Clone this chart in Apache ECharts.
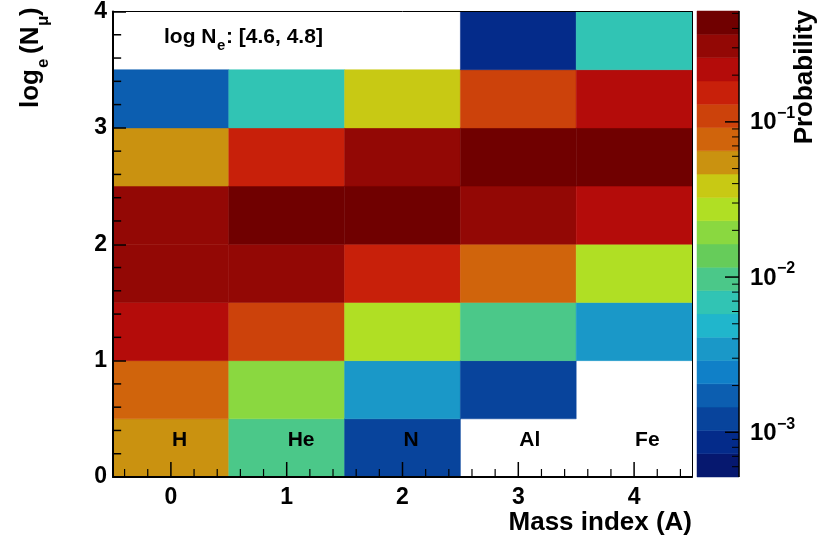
<!DOCTYPE html>
<html>
<head>
<meta charset="utf-8">
<script src="https://cdn.jsdelivr.net/npm/echarts@6/dist/echarts.min.js"></script>
<style>
  html, body { margin: 0; padding: 0; background: #fff; }
  #main { width: 823px; height: 543px; }
</style>
</head>
<body>
<div id="main"></div>
<script>
var FONT = '"Liberation Sans", Arial, Helvetica, sans-serif';

// mass index (x) and element names
var massIndex = [0, 1, 2, 3, 4];
var elements = ['H', 'He', 'N', 'Al', 'Fe'];

// lower edges of the log_e(N_mu) bins, bin width 0.5
var binLow = [0, 0.5, 1, 1.5, 2, 2.5, 3, 3.5];
var binWidth = 0.5;

// probability per bin (null = empty cell)
var probH  = [0.055, 0.077, 0.22, 0.31, 0.30, 0.054, 0.0017, null];
var probHe = [0.0097, 0.019, 0.11, 0.31, 0.43, 0.15, 0.0069, null];
var probN  = [0.0012, 0.0034, 0.027, 0.15, 0.44, 0.30, 0.039, null];
var probAl = [null, 0.0012, 0.0097, 0.077, 0.30, 0.43, 0.11, 0.00086];
var probFe = [null, null, 0.0034, 0.027, 0.22, 0.43, 0.22, 0.0069];
var probByMass = [probH, probHe, probN, probAl, probFe];

// colour palette, low -> high (20 bands on a log scale)
var palette = [
  '#06186f', '#042b8a', '#08449c', '#0c5eb0', '#1080c8',
  '#1a98c8', '#20b6cc', '#31c4b4', '#4bc889', '#66cc5a',
  '#8ad840', '#b0df24', '#c8c914', '#ca9210', '#d0640c',
  '#cc420b', '#c8200a', '#b40c0a', '#930805', '#700000'
];
var zMin = 5.15e-4;
var zMax = 0.518;

// colour bar ticks
var cbMajor = [1e-3, 1e-2, 1e-1];
var cbMajorExp = ['\u22123', '\u22122', '\u22121'];
var cbMinorMant = [2, 3, 4, 5, 6, 7, 8, 9];

var zLo = Math.log10(zMin);
var zHi = Math.log10(zMax);
var zStep = (zHi - zLo) / palette.length;

function colorOf(v) {
  var k = Math.floor((Math.log10(v) - zLo) / zStep);
  if (k < 0) k = 0;
  if (k > palette.length - 1) k = palette.length - 1;
  return palette[k];
}

var cellData = [];
massIndex.forEach(function (a, i) {
  probByMass[i].forEach(function (p, j) {
    if (p != null) cellData.push([a, binLow[j], p]);
  });
});

// ROOT style x ticks: major every 1, minor every 0.2
var xTickData = [];
for (var t = -2; t <= 22; t++) {
  xTickData.push([Math.round(t * 2) / 10, t % 5 === 0 ? 1 : 0]);
}
// y minor ticks every 0.2
var yMinorData = [];
for (var s = 1; s < 20; s++) {
  if (s % 5 !== 0) yMinorData.push([-0.49, Math.round(s * 2) / 10]);
}

var labelData = massIndex.map(function (a) { return [a, 0.32]; });

var cbBandData = palette.map(function (c, k) { return [k]; });

var cbTickData = [];
cbMajor.forEach(function (m, i) { cbTickData.push([Math.log10(m), 1, i]); });
[-4, -3, -2, -1].forEach(function (e) {
  cbMinorMant.forEach(function (m) {
    var lv = e + Math.log10(m);
    if (lv > zLo && lv < zHi) cbTickData.push([lv, 0, -1]);
  });
});

var chart = echarts.init(document.getElementById('main'));

var labelFont = { fontFamily: FONT, fontWeight: 'bold', fontSize: 23, color: '#000' };

function txt(x, y, s, size, align) {
  return { type: 'text', x: x, y: y, z: 10,
    style: { text: s, fill: '#000', font: 'bold ' + size + 'px ' + FONT,
      align: align || 'left', verticalAlign: 'middle',
      textAlign: align || 'left', textVerticalAlign: 'middle' } };
}

var option = {
  backgroundColor: '#fff',
  animation: false,
  grid: [
    { left: 113, top: 11, width: 579, height: 466 },
    { left: 697, top: 11, width: 42, height: 466 }
  ],
  xAxis: [
    {
      type: 'value', gridIndex: 0, min: -0.5, max: 4.5, interval: 0.5, z: 10,
      axisLine: { onZero: false, lineStyle: { color: '#000', width: 2 } },
      axisTick: { show: false },
      splitLine: { show: false },
      axisLabel: Object.assign({
        margin: 9,
        formatter: function (v) { return Math.abs(v - Math.round(v)) < 1e-6 ? String(Math.round(v)) : ''; }
      }, labelFont)
    },
    {
      type: 'value', gridIndex: 0, position: 'top', min: -0.5, max: 4.5, z: 10,
      axisLine: { show: true, onZero: false, lineStyle: { color: '#000', width: 1 } },
      axisTick: { show: false }, axisLabel: { show: false }, splitLine: { show: false }
    },
    { type: 'value', gridIndex: 1, min: 0, max: 1, show: false }
  ],
  yAxis: [
    {
      type: 'value', gridIndex: 0, min: 0, max: 4, interval: 1, z: 11,
      axisLine: { onZero: false, lineStyle: { color: '#000', width: 2 } },
      axisTick: { inside: true, length: 13, lineStyle: { color: '#000', width: 1.5 } },
      splitLine: { show: false },
      axisLabel: Object.assign({ margin: 6 }, labelFont)
    },
    {
      type: 'value', gridIndex: 0, position: 'right', min: 0, max: 4, z: 10,
      axisLine: { show: true, onZero: false, lineStyle: { color: '#000', width: 1 } },
      axisTick: { show: false }, axisLabel: { show: false }, splitLine: { show: false }
    },
    { type: 'value', gridIndex: 1, min: zLo, max: zHi, show: false }
  ],
  series: [
    {
      type: 'custom', xAxisIndex: 0, yAxisIndex: 0, z: 2,
      data: cellData,
      renderItem: function (params, api) {
        var a = api.value(0), y0 = api.value(1), p = api.value(2);
        var p1 = api.coord([a - 0.5, y0 + binWidth]);
        var p2 = api.coord([a + 0.5, y0]);
        var c = colorOf(p);
        return {
          type: 'rect',
          shape: { x: p1[0], y: p1[1], width: p2[0] - p1[0], height: p2[1] - p1[1] },
          style: { fill: c, stroke: c, lineWidth: 0.5 }
        };
      }
    },
    {
      type: 'custom', xAxisIndex: 0, yAxisIndex: 0, z: 5,
      data: xTickData,
      renderItem: function (params, api) {
        var p = api.coord([api.value(0), 0]);
        var major = api.value(1);
        var len = major ? 15 : 8;
        return {
          type: 'line',
          shape: { x1: p[0], y1: p[1], x2: p[0], y2: p[1] - len },
          style: { stroke: '#000', lineWidth: major ? 1.5 : 1.2 }
        };
      }
    },
    {
      type: 'custom', xAxisIndex: 0, yAxisIndex: 0, z: 7,
      data: yMinorData,
      renderItem: function (params, api) {
        var p = api.coord([api.value(0), api.value(1)]);
        return {
          type: 'rect',
          shape: { x: p[0] - 1, y: p[1] - 0.75, width: 8, height: 1.5 },
          style: { fill: '#000' }
        };
      }
    },
    {
      type: 'custom', xAxisIndex: 0, yAxisIndex: 0, z: 6,
      data: labelData,
      renderItem: function (params, api) {
        var p = api.coord([api.value(0), api.value(1)]);
        return {
          type: 'text', x: p[0] + 1, y: p[1],
          style: {
            text: elements[params.dataIndex], fill: '#000',
            font: 'bold 21px ' + FONT,
            align: 'left', verticalAlign: 'middle', textAlign: 'left', textVerticalAlign: 'middle'
          }
        };
      }
    },
    {
      type: 'custom', xAxisIndex: 2, yAxisIndex: 2, z: 2,
      data: cbBandData,
      renderItem: function (params, api) {
        var k = api.value(0);
        var p1 = api.coord([0, zLo + (k + 1) * zStep]);
        var p2 = api.coord([1, zLo + k * zStep]);
        return {
          type: 'rect',
          shape: { x: p1[0], y: p1[1], width: p2[0] - p1[0], height: p2[1] - p1[1] },
          style: { fill: palette[k], stroke: palette[k], lineWidth: 0.5 }
        };
      }
    },
    {
      type: 'custom', xAxisIndex: 2, yAxisIndex: 2, z: 5,
      data: cbTickData,
      renderItem: function (params, api) {
        var lv = api.value(0), major = api.value(1);
        var p = api.coord([1, lv]);
        var children = [{
          type: 'line',
          shape: { x1: p[0], y1: p[1], x2: p[0] - (major ? 14 : 7), y2: p[1] },
          style: { stroke: '#000', lineWidth: major ? 1.5 : 1 }
        }];
        if (major) {
          var i = api.value(2);
          children.push(txt(p[0] + 11, p[1] + 1, '10', 24));
          children.push(txt(p[0] + 38, p[1] - 8, cbMajorExp[i], 16));
        }
        return { type: 'group', children: children };
      }
    }
  ],
  graphic: [
    // colour bar axis line
    {
      type: 'line', z: 10,
      shape: { x1: 739, y1: 11, x2: 739, y2: 477 },
      style: { stroke: '#000', lineWidth: 1.5 }
    },
    txt(164, 37, 'log N', 21),
    txt(217, 46, 'e', 15),
    txt(226, 37, ': [4.6, 4.8]', 21),
    txt(692, 523, 'Mass index (A)', 26, 'right'),
    Object.assign(txt(805, 10, 'Probability', 26, 'right'), { rotation: Math.PI / 2 }),
    {
      type: 'group', x: 31, y: 108, rotation: Math.PI / 2, z: 10,
      children: [
        txt(0, 0, 'log', 26),
        txt(40, 12, 'e', 17),
        txt(54, 0, '(N', 26),
        txt(82, 12, '\u03bc', 17),
        txt(92, 0, ')', 26)
      ]
    }
  ]
};

chart.setOption(option);
</script>
</body>
</html>
